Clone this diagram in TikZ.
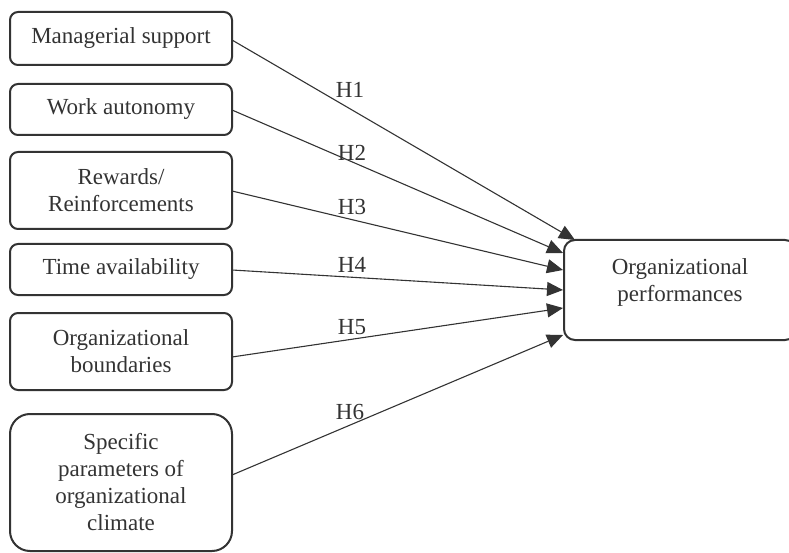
\documentclass[tikz,border=0pt]{standalone}
\usepackage{fontspec}
\setmainfont{Liberation Serif}
\usetikzlibrary{arrows.meta,calc}
\definecolor{ink}{HTML}{333333}
\begin{document}
\begin{tikzpicture}[x=1pt,y=-1pt,
  box/.style={draw=ink,line width=2pt,rounded corners=8pt,minimum width=222pt,
    align=center,text=ink,inner sep=0pt,font=\fontsize{23}{27}\selectfont},
  conn/.style={draw=ink,line width=1.1pt,-{Triangle[length=16pt,width=14pt]}},
  hl/.style={text=ink,inner sep=0pt,font=\fontsize{23}{27}\selectfont}]
\useasboundingbox (0,0) rectangle (789,553);
\node[box,minimum height=53pt] (b1) at (121,38.5) {Managerial support};
\node[box,minimum height=51pt] (b2) at (121,109.5) {Work autonomy};
\node[box,minimum height=77pt] (b3) at (121,190.5) {Rewards/\\Reinforcements};
\node[box,minimum height=51pt] (b4) at (121,269.5) {Time availability};
\node[box,minimum height=77pt] (b5) at (121,351.5) {Organizational\\boundaries};
\node[box,minimum height=137pt,rounded corners=20pt] (b6) at (121,482.5) {Specific\\parameters of\\organizational\\climate};
\node[box,minimum width=232pt,minimum height=100pt,rounded corners=11pt,
  label={[hl,align=center,yshift=8pt]center:{Organizational\\performances}}] (r) at (680,290) {};
\coordinate (t1) at (575,240);
\coordinate (t2) at (563,253);
\coordinate (t3) at (563,270);
\coordinate (t4) at (563,290);
\coordinate (t5) at (563,308);
\coordinate (t6) at (563,335);
\coordinate (s1) at (232,40);
\coordinate (s2) at (232,110);
\coordinate (s3) at (232,191);
\coordinate (s4) at (232,270);
\coordinate (s5) at (232,357);
\coordinate (s6) at (232,475);
\draw[conn] (s1) -- (t1);
\draw[conn] (s2) -- (t2);
\draw[conn] (s3) -- (t3);
\draw[conn] (s4) -- (t4);
\draw[conn] (s5) -- (t5);
\draw[conn] (s6) -- (t6);
\node[hl] (h1) at (350,90) {H1};
\node[hl] (h2) at (352,153) {H2};
\node[hl] (h3) at (352,207) {H3};
\node[hl] (h4) at (352,265) {H4};
\node[hl] (h5) at (352,327) {H5};
\node[hl] (h6) at (350,412) {H6};
\end{tikzpicture}
\end{document}
